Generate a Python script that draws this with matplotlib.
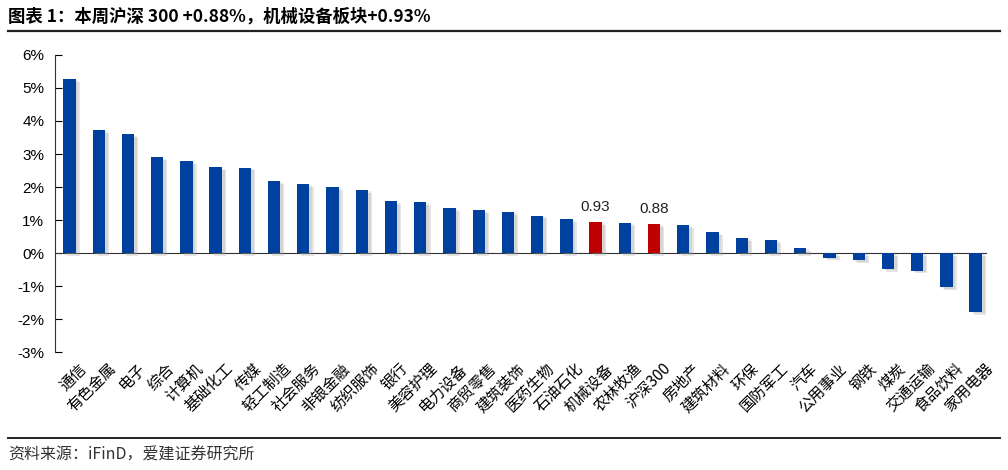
import matplotlib.pyplot as plt
import matplotlib.patheffects as pe
from matplotlib.ticker import FuncFormatter

plt.rcParams['font.family'] = ['Noto Sans CJK SC', 'DejaVu Sans']

# 行业周涨跌幅 (%)
industries = ["通信", "有色金属", "电子", "综合", "计算机", "基础化工", "传媒", "轻工制造",
              "社会服务", "非银金融", "纺织服饰", "银行", "美容护理", "电力设备", "商贸零售",
              "建筑装饰", "医药生物", "石油石化", "机械设备", "农林牧渔", "沪深300", "房地产",
              "建筑材料", "环保", "国防军工", "汽车", "公用事业", "钢铁", "煤炭", "交通运输",
              "食品饮料", "家用电器"]
changes = [5.27, 3.73, 3.60, 2.90, 2.79, 2.60, 2.59, 2.18,
           2.09, 2.00, 1.91, 1.57, 1.55, 1.37, 1.29,
           1.25, 1.13, 1.02, 0.93, 0.91, 0.88, 0.85,
           0.63, 0.46, 0.40, 0.16, -0.14, -0.22, -0.48, -0.53,
           -1.04, -1.78]
highlight = ["机械设备", "沪深300"]

title = "图表 1：本周沪深 300 +0.88%，机械设备板块+0.93%"
source = "资料来源：iFinD，爱建证券研究所"

blue = "#0041A0"
red = "#C00000"

fig = plt.figure(figsize=(10.08, 4.7), dpi=100)
ax = fig.add_axes([0.055, 0.251, 0.923, 0.632])

x = range(len(industries))
colors = [red if n in highlight else blue for n in industries]
bars = ax.bar(x, changes, width=0.42, color=colors, zorder=3)
for b in bars:
    b.set_path_effects([pe.SimplePatchShadow(offset=(3, -2), shadow_rgbFace="#999999", alpha=0.25),
                        pe.SimplePatchShadow(offset=(2, -1), shadow_rgbFace="#999999", alpha=0.2),
                        pe.Normal()])

for i, n in enumerate(industries):
    if n in highlight:
        ax.text(i, changes[i] + 0.25, f"{changes[i]:.2f}", ha="center", va="bottom",
                fontsize=11, family="Liberation Sans", color="#222222")

ax.set_xlim(-0.48, len(industries) - 0.65)
ax.set_ylim(-3, 6)
ax.set_yticks(range(-3, 7))
ax.yaxis.set_major_formatter(FuncFormatter(lambda v, p: f"{int(v)}%"))
ax.tick_params(axis="y", direction="in", length=5, labelsize=11, pad=8)
for lab in ax.get_yticklabels():
    lab.set_family("Liberation Sans")

ax.spines["top"].set_visible(False)
ax.spines["right"].set_visible(False)
ax.spines["bottom"].set_position(("data", 0))
ax.spines["bottom"].set_color("#333333")
ax.spines["left"].set_color("#333333")

ax.set_xticks(list(x))
ax.set_xticklabels([])
ax.tick_params(axis="x", length=0)
for i, n in enumerate(industries):
    ax.text(i + 0.3, -3.25, n, rotation=45, ha="right", va="top", fontsize=11,
            rotation_mode="anchor", transform=ax.transData)

fig.text(0.008, 0.965, title, fontsize=12.5, fontweight="bold", ha="left", va="center")
fig.add_artist(plt.Line2D([0.008, 0.992], [0.934, 0.934], color="#222222", lw=1.6))
fig.add_artist(plt.Line2D([0.008, 0.992], [0.068, 0.068], color="#222222", lw=1.4))
fig.text(0.008, 0.032, source, fontsize=11.5, ha="left", va="center", color="#333333")

fig.savefig("out.png", dpi=100)
